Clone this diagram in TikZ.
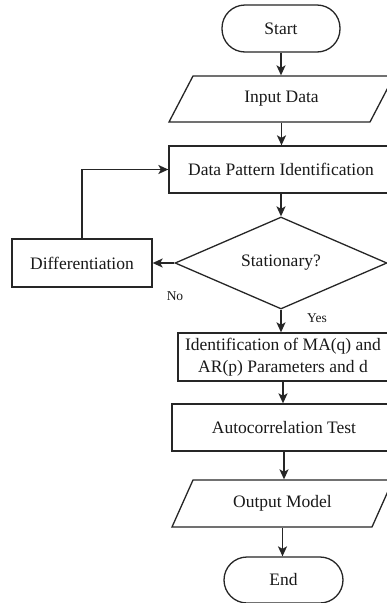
\documentclass[tikz,border=0pt]{standalone}
\usepackage{fontspec}
\setmainfont{Liberation Serif}
\usetikzlibrary{arrows.meta,shapes.geometric}
\begin{document}
\begin{tikzpicture}[x=1pt,y=-1pt,
  line width=1.3pt,
  every node/.style={font=\fontsize{17.5}{21.5}\selectfont, text=black!90},
  terminal/.style={draw=black!85, rounded corners=23pt, minimum width=118pt, minimum height=47pt, inner sep=0pt},
  procbox/.style={draw=black!85, minimum height=47pt, inner sep=0pt, align=center},
  iobox/.style={minimum height=46pt, inner sep=0pt},
  decision/.style={draw=black!85, diamond, aspect=2.3, minimum width=212pt, minimum height=92pt, inner sep=0pt},
  lbl/.style={font=\fontsize{13.5}{16}\selectfont},
  arr/.style={draw=black!85, line width=1.5pt, -{Stealth[length=10pt,width=9pt,inset=2.5pt]}}
]
\clip (0,0) rectangle (387,603);
\fill[white] (0,0) rectangle (387,603);

% Start
\node[terminal] (start) at (281,28.5) {Start};

% Input Data parallelogram
\draw[black!85] (169,122) -- (193,76) -- (394,76) -- (370,122) -- cycle;
\node[iobox, minimum width=180pt] (input) at (281.5,99) {Input Data};

% Data Pattern Identification
\node[procbox, minimum width=224pt] (dp) at (281,169.5) {Data Pattern Identification};

% Decision
\node[decision] (stat) at (281,263) {Stationary?};

% Differentiation
\node[procbox, minimum width=140pt, minimum height=48pt] (diff) at (82,263) {Differentiation};

% Identification of parameters
\node[procbox, minimum width=210pt, minimum height=48pt] (ident) at (283,357) {Identification of MA(q) and\\AR(p) Parameters and d};

% Autocorrelation test
\node[procbox, minimum width=224pt] (auto) at (284,427.5) {Autocorrelation Test};

% Output Model parallelogram
\draw[black!85] (172,527) -- (193,480) -- (393,480) -- (372,527) -- cycle;
\node[iobox, minimum width=180pt, minimum height=47pt] (output) at (282.5,503.5) {Output Model};

% End
\node[terminal, minimum width=119pt, minimum height=46pt] (end) at (283.5,580) {End};

% Connectors
\draw[arr] (start.south) -- (start.south |- input.north);
\draw[arr] (input.south) -- (input.south |- dp.north);
\draw[arr] (dp.south) -- (dp.south |- stat.north);
\draw[arr] (stat.west) -- (diff.east);
\draw[arr] (diff.north) |- (dp.west);
\draw[arr] (stat.south) -- (stat.south |- ident.north);
\draw[arr] (ident.south) -- (ident.south |- auto.north);
\draw[arr] (auto.south) -- (auto.south |- output.north);
\draw[arr] (output.south) -- (output.south |- end.north);

% Labels
\node[lbl] (nolbl) at (175,296) {No};
\node[lbl] (yeslbl) at (317,318) {Yes};
\end{tikzpicture}
\end{document}
